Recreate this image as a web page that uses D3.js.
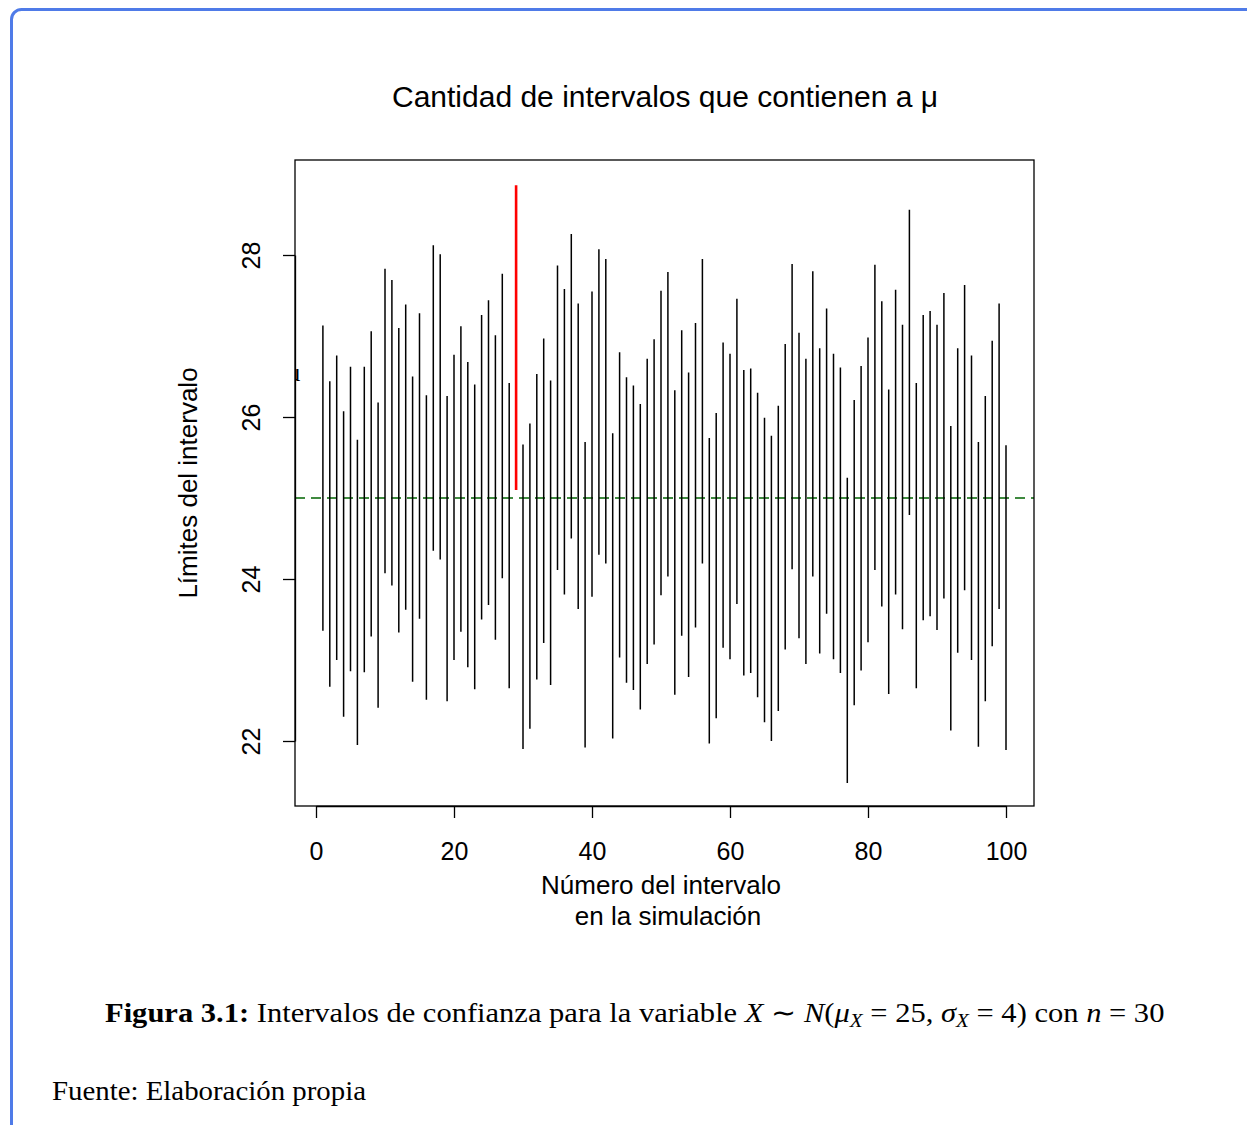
<!DOCTYPE html>
<html>
<head>
<meta charset="utf-8">
<script src="https://cdn.jsdelivr.net/npm/d3@7"></script>
<style>
  html, body { margin: 0; padding: 0; background: #ffffff; }
  svg { display: block; }
</style>
</head>
<body>
<div id="chart"></div>
<script>
// ---- data ----
const intervalIds = d3.range(1, 101);
const lower = [23.36,22.67,23.00,22.30,22.86,21.95,22.85,23.29,22.41,24.07,
  23.92,23.34,23.62,22.73,23.51,22.51,24.35,24.24,22.49,23.00,
  23.35,22.91,22.64,23.50,23.68,23.25,24.01,22.65,25.10,21.90,
  22.15,22.76,23.21,22.69,24.11,23.81,24.50,23.63,21.92,23.78,
  24.30,24.19,22.03,23.03,22.72,22.63,22.39,22.95,23.19,23.80,
  24.03,22.57,23.30,22.79,23.40,24.19,21.97,22.28,23.15,23.01,
  23.69,22.81,22.84,22.54,22.23,22.00,22.37,23.13,24.12,23.27,
  22.95,24.03,23.08,23.57,23.01,22.84,21.48,22.44,22.87,23.22,
  24.11,23.66,22.58,23.81,23.38,24.79,22.65,23.49,23.54,23.37,
  23.76,22.13,23.09,23.86,23.00,21.93,22.49,23.17,23.63,21.89];
const upper = [27.13,26.44,26.76,26.07,26.62,25.72,26.62,27.06,26.18,27.83,
  27.69,27.10,27.39,26.50,27.28,26.27,28.12,28.01,26.26,26.77,
  27.12,26.68,26.40,27.26,27.44,27.01,27.77,26.42,28.86,25.66,
  25.92,26.53,26.97,26.45,27.87,27.58,28.26,27.40,25.69,27.55,
  28.07,27.95,25.80,26.80,26.49,26.39,26.16,26.72,26.96,27.56,
  27.79,26.33,27.07,26.55,27.16,27.95,25.74,26.05,26.92,26.78,
  27.46,26.58,26.60,26.30,25.99,25.77,26.14,26.90,27.89,27.04,
  26.72,27.80,26.85,27.34,26.78,26.61,25.25,26.21,26.63,26.98,
  27.88,27.43,26.34,27.57,27.14,28.56,26.42,27.26,27.31,27.14,
  27.53,25.89,26.85,27.63,26.76,25.69,26.26,26.94,27.40,25.65];
const mu = 25;
const xTicks = [0, 20, 40, 60, 80, 100];
const yTicks = [22, 24, 26, 28];
const titleText = "Cantidad de intervalos que contienen a μ";
const xLabelLines = ["Número del intervalo", "en la simulación"];
const yLabelText = "Límites del intervalo";

// ---- layout ----
const W = 1247, H = 1125;
const box = {left: 295, right: 1034, top: 160, bottom: 806};

const svg = d3.select("#chart").append("svg")
  .attr("width", W).attr("height", H)
  .style("font-family", "'Liberation Sans', Arial, Helvetica, sans-serif");

// page frame (blue rounded border)
svg.append("rect")
  .attr("x", 11.5).attr("y", 9.5)
  .attr("width", 1260).attr("height", 1140)
  .attr("rx", 10).attr("ry", 10)
  .attr("fill", "none")
  .attr("stroke", "#4f7be8")
  .attr("stroke-width", 3);

const x = d3.scaleLinear().domain([0, 100]).range([316, 1006]);
const y = d3.scaleLinear().domain([22, 28]).range([741, 255]);

svg.append("defs").append("clipPath").attr("id", "plotclip")
  .append("rect")
  .attr("x", box.left).attr("y", box.top)
  .attr("width", box.right - box.left).attr("height", box.bottom - box.top);

const plot = svg.append("g").attr("clip-path", "url(#plotclip)");

// reference line at mu
plot.append("line")
  .attr("x1", box.left).attr("x2", box.right)
  .attr("y1", y(mu)).attr("y2", y(mu))
  .attr("stroke", "#006400")
  .attr("stroke-width", 1.5)
  .attr("stroke-dasharray", "10,6");

// intervals
const data = intervalIds.map((id, i) => ({id, lo: lower[i], hi: upper[i]}));
plot.selectAll("line.ci").data(data).join("line")
  .attr("class", "ci")
  .attr("x1", d => x(d.id)).attr("x2", d => x(d.id))
  .attr("y1", d => y(d.lo)).attr("y2", d => y(d.hi))
  .attr("stroke", d => (d.lo > mu || d.hi < mu) ? "#ff0000" : "#000000")
  .attr("stroke-width", d => (d.lo > mu || d.hi < mu) ? 2.6 : 1.5);

// stray clipped mu label at the left edge
plot.append("text")
  .attr("x", 287).attr("y", y(26.45))
  .attr("font-family", "'Liberation Serif', 'DejaVu Serif', serif")
  .attr("font-size", 26)
  .text("μ");

// box
svg.append("rect")
  .attr("x", box.left).attr("y", box.top)
  .attr("width", box.right - box.left).attr("height", box.bottom - box.top)
  .attr("fill", "none").attr("stroke", "#000").attr("stroke-width", 1.3);

// x axis
const xAxis = svg.append("g")
  .attr("transform", `translate(0,${box.bottom})`)
  .call(d3.axisBottom(x).tickValues(xTicks).tickSize(12).tickSizeOuter(0).tickPadding(24).tickFormat(d3.format("d")));
xAxis.selectAll("path, line").attr("stroke", "#000").attr("stroke-width", 1.3);
xAxis.selectAll("text").attr("font-size", 25).attr("fill", "#000")
  .attr("font-family", "'Liberation Sans', Arial, sans-serif");

// y axis
const yAxis = svg.append("g")
  .attr("transform", `translate(${box.left},0)`)
  .call(d3.axisLeft(y).tickValues(yTicks).tickSize(12).tickSizeOuter(0).tickFormat(d3.format("d")));
yAxis.selectAll("path, line").attr("stroke", "#000").attr("stroke-width", 1.3);
yAxis.selectAll("text")
  .attr("x", null).attr("dy", null)
  .attr("transform", "translate(-35,0) rotate(-90)")
  .attr("text-anchor", "middle")
  .attr("font-size", 25).attr("fill", "#000")
  .attr("font-family", "'Liberation Sans', Arial, sans-serif");

// title
svg.append("text")
  .attr("x", 665).attr("y", 107)
  .attr("text-anchor", "middle")
  .attr("font-size", 30)
  .text(titleText);

// x label
svg.append("text").attr("x", 661).attr("y", 894)
  .attr("text-anchor", "middle").attr("font-size", 26).text(xLabelLines[0]);
svg.append("text").attr("x", 668).attr("y", 925)
  .attr("text-anchor", "middle").attr("font-size", 26).text(xLabelLines[1]);

// y label
svg.append("text")
  .attr("transform", `translate(197,${(box.top + box.bottom) / 2}) rotate(-90)`)
  .attr("text-anchor", "middle").attr("font-size", 26)
  .text(yLabelText);

// caption
const cap = svg.append("text")
  .attr("transform", "translate(105,1022) scale(1.11,1)")
  .attr("x", 0).attr("y", 0)
  .attr("font-family", "'Liberation Serif', 'Times New Roman', serif")
  .attr("font-size", 27.5).attr("fill", "#000");
cap.append("tspan").attr("font-weight", "bold").text("Figura 3.1:");
cap.append("tspan").text(" Intervalos de confianza para la variable ");
cap.append("tspan").attr("font-style", "italic").text("X");
cap.append("tspan").text(" ∼ ");
cap.append("tspan").attr("font-style", "italic").text("N");
cap.append("tspan").text("(");
cap.append("tspan").attr("font-style", "italic").text("μ");
cap.append("tspan").attr("font-style", "italic").attr("font-size", 19).attr("dy", 5).text("X");
cap.append("tspan").attr("dy", -5).text(" = 25,  ");
cap.append("tspan").attr("font-style", "italic").text("σ");
cap.append("tspan").attr("font-style", "italic").attr("font-size", 19).attr("dy", 5).text("X");
cap.append("tspan").attr("dy", -5).text(" = 4) con ");
cap.append("tspan").attr("font-style", "italic").text("n");
cap.append("tspan").text(" = 30");

svg.append("text")
  .attr("x", 52).attr("y", 1100)
  .attr("font-family", "'Liberation Serif', 'Times New Roman', serif")
  .attr("font-size", 27.5).attr("fill", "#000")
  .attr("textLength", 314).attr("lengthAdjust", "spacingAndGlyphs")
  .text("Fuente: Elaboración propia");
</script>
</body>
</html>
